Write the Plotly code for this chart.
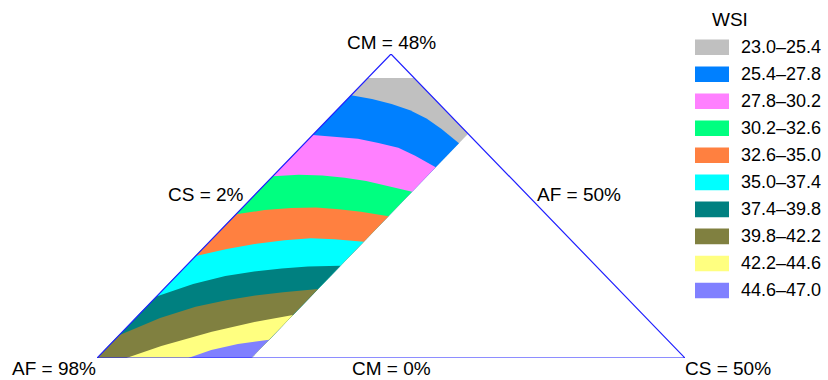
import plotly.graph_objects as go

# Mixture space: CM + CS + AF = 100 %, with CM >= 0, CS >= 2, AF >= 50
CM_MIN, CS_MIN, AF_MIN = 0.0, 2.0, 50.0
TOTAL = 100.0
SPAN = TOTAL - CM_MIN - CS_MIN - AF_MIN  # 48 % edge length

# Experimental region inside the simplex
region_cs_max = 14.6
region_cm_max = 44.2

# WSI bands (top of the region downwards)
band_labels = ["23.0–25.4", "25.4–27.8", "27.8–30.2", "30.2–32.6", "32.6–35.0",
               "35.0–37.4", "37.4–39.8", "39.8–42.2", "42.2–44.6", "44.6–47.0"]
band_colors = ["#C0C0C0", "#0080FF", "#FF80FF", "#00FF80", "#FF8040",
               "#00FFFF", "#008080", "#808040", "#FFFF80", "#8080FF"]

# Contour lines between bands: CM (%) along CS (%)
cs_grid = [2, 4, 6, 8, 10, 12, 14.6]
cm_25_4 = [41.5, 40.9, 40.1, 39.1, 37.8, 36.2, 33.9]
cm_27_8 = [35.2, 34.95, 34.6, 33.95, 33.2, 31.95, 30.1]
cm_30_2 = [28.7, 28.95, 28.8, 28.45, 27.95, 27.2, 26.25]
cm_32_6 = [22.7, 23.35, 23.7, 23.75, 23.5, 23.1, 22.4]
cm_35_0 = [16.1, 17.2, 18.05, 18.6, 18.9, 18.75, 18.35]
cm_37_4 = [9.7, 11.7, 12.95, 13.65, 14.15, 14.45, 14.55]
cm_39_8 = [3.6, 6.3, 8.1, 9.1, 9.85, 10.4, 10.9]
cs_42_2 = [4.4, 6.3, 9.3, 12.0, 14.6]
cm_42_2 = [0.0, 1.9, 4.15, 5.7, 6.8]
cs_44_6 = [9.45, 10.7, 12.4, 14.6]
cm_44_6 = [0.0, 1.25, 2.2, 2.9]

contours = [
    (cs_grid, cm_25_4), (cs_grid, cm_27_8), (cs_grid, cm_30_2),
    (cs_grid, cm_32_6), (cs_grid, cm_35_0), (cs_grid, cm_37_4),
    (cs_grid, cm_39_8), (cs_42_2, cm_42_2), (cs_44_6, cm_44_6),
]

# Corner and edge captions
vertex_labels = ["CM = 48%", "AF = 98%", "CS = 50%"]
edge_labels = ["CS = 2%", "AF = 50%", "CM = 0%"]
legend_title = "WSI"


def to_xy(cs, cm):
    """Composition (CS, CM) -> position in the flat triangle (AF corner at origin)."""
    xs = [(c - CS_MIN) + (m - CM_MIN) / 2 for c, m in zip(cs, cm)]
    ys = [m - CM_MIN for m in cm]
    return xs, ys


fig = go.Figure()

# Whole experimental region takes the first (lowest WSI) colour
cs_max_af = TOTAL - AF_MIN - region_cm_max          # CS where CM cap meets AF = 50 %
cm_at_cs_max = TOTAL - AF_MIN - region_cs_max        # CM where CS cap meets AF = 50 %
reg_cs = [CS_MIN, region_cs_max, region_cs_max, cs_max_af, CS_MIN, CS_MIN]
reg_cm = [CM_MIN, CM_MIN, cm_at_cs_max, region_cm_max, region_cm_max, CM_MIN]
polys = [(reg_cs, reg_cm)]

# Each further band: everything of the region below its upper contour line
for cs_line, cm_line in contours:
    pcs = list(cs_line) + [region_cs_max]
    pcm = list(cm_line) + [CM_MIN]
    if cm_line[0] > CM_MIN:
        pcs.append(CS_MIN)
        pcm.append(CM_MIN)
    pcs.append(cs_line[0])
    pcm.append(cm_line[0])
    polys.append((pcs, pcm))

for (pcs, pcm), color, label in zip(polys, band_colors, band_labels):
    x, y = to_xy(pcs, pcm)
    fig.add_trace(go.Scatter(
        x=x, y=y, mode="lines", fill="toself", fillcolor=color,
        line=dict(width=0, color=color), name=label, showlegend=False,
        hoverinfo="name", cliponaxis=False,
    ))

# Triangle outline
tri_cs = [CS_MIN, CS_MIN + SPAN, CS_MIN, CS_MIN]
tri_cm = [CM_MIN, CM_MIN, CM_MIN + SPAN, CM_MIN]
tx, ty = to_xy(tri_cs, tri_cm)
fig.add_trace(go.Scatter(
    x=tx, y=ty, mode="lines", line=dict(color="#1f1fff", width=1.2),
    showlegend=False, hoverinfo="skip", cliponaxis=False,
))

FONT = "Liberation Sans, Arial, sans-serif"

# Plot-area geometry in pixels (for placing captions and legend)
W, H = 828, 380
L, R, T, B = 97, 143, 54, 22
pw, ph = W - L - R, H - T - B


def px(xp):
    return (xp - L) / pw


def py(yp):
    return (H - B - yp) / ph


annotations = []
for text, (xp, yp, anchor) in zip(
        vertex_labels,
        [(392, 42, "center"), (97, 368.5, "right"), (684, 368.5, "left")]):
    annotations.append(dict(
        text=text, x=px(xp), y=py(yp), xref="paper", yref="paper",
        xanchor=anchor, yanchor="middle", showarrow=False, borderpad=0,
        font=dict(family=FONT, size=19, color="black"),
    ))
for text, (xp, yp) in zip(edge_labels, [(205.5, 194), (579, 194), (391, 368.5)]):
    annotations.append(dict(
        text=text, x=px(xp), y=py(yp), xref="paper", yref="paper",
        xanchor="center", yanchor="middle", showarrow=False, borderpad=0,
        font=dict(family=FONT, size=19, color="black"),
    ))

# Legend: swatches and ranges
shapes = []
annotations.append(dict(
    text=legend_title, x=px(730), y=py(20), xref="paper", yref="paper",
    xanchor="center", yanchor="middle", showarrow=False,
    font=dict(family=FONT, size=19, color="black"),
))
row0, step = 47.2, 27.03
for i, (color, label) in enumerate(zip(band_colors, band_labels)):
    yc = row0 + step * i
    shapes.append(dict(
        type="rect", xref="paper", yref="paper",
        x0=px(695), x1=px(729), y0=py(yc + 7.8), y1=py(yc - 7.8),
        fillcolor=color, line=dict(width=0),
    ))
    annotations.append(dict(
        text=label, x=px(740), y=py(yc), xref="paper", yref="paper",
        xanchor="left", yanchor="middle", showarrow=False, borderpad=0,
        font=dict(family=FONT, size=18, color="black"),
    ))

fig.update_layout(
    width=W, height=H,
    margin=dict(l=L, r=R, t=T, b=B),
    paper_bgcolor="white", plot_bgcolor="white",
    xaxis=dict(range=[0, SPAN], visible=False, fixedrange=True),
    yaxis=dict(range=[0, SPAN], visible=False, fixedrange=True),
    annotations=annotations, shapes=shapes, showlegend=False,
)

fig.write_html("out.html")
